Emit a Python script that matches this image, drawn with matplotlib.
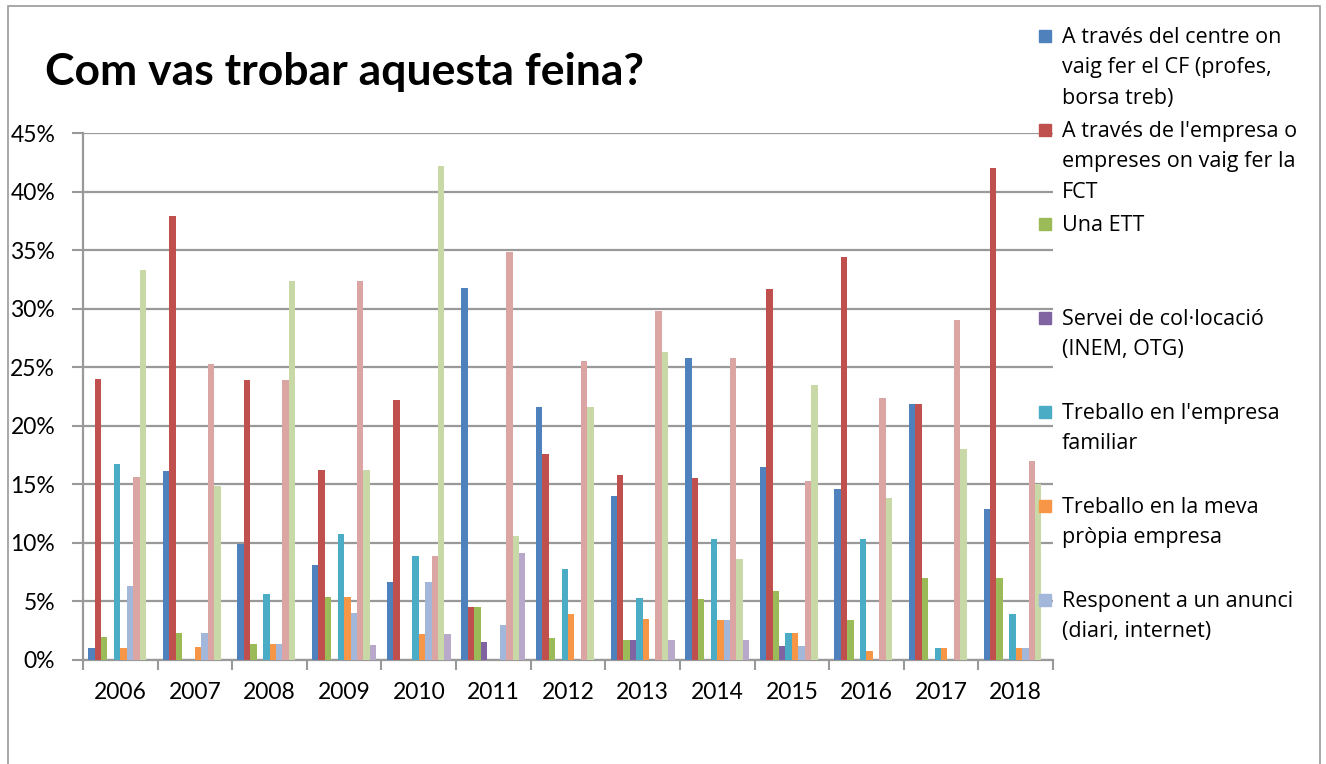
import matplotlib.pyplot as plt
import numpy as np
from matplotlib.patches import Rectangle

years = ['2006', '2007', '2008', '2009', '2010', '2011', '2012',
         '2013', '2014', '2015', '2016', '2017', '2018']

# percentatges per any (llegits del gràfic)
centre_cf = [1.0, 16.1, 9.9, 8.1, 6.7, 31.8, 21.6, 14.0, 25.8, 16.5, 14.6, 21.9, 12.9]
empresa_fct = [24.0, 37.9, 23.9, 16.2, 22.2, 4.5, 17.6, 15.8, 15.5, 31.7, 34.4, 21.9, 42.0]
ett = [2.0, 2.3, 1.4, 5.4, 0.0, 4.5, 1.9, 1.7, 5.2, 5.9, 3.4, 7.0, 7.0]
collocacio = [0.0, 0.0, 0.0, 0.0, 0.0, 1.5, 0.0, 1.7, 0.0, 1.2, 0.0, 0.0, 0.0]
empresa_familiar = [16.7, 0.0, 5.6, 10.8, 8.9, 0.0, 7.8, 5.3, 10.3, 2.3, 10.3, 1.0, 3.9]
propia_empresa = [1.0, 1.1, 1.4, 5.4, 2.2, 0.0, 3.9, 3.5, 3.4, 2.3, 0.8, 1.0, 1.0]
anunci = [6.3, 2.3, 1.4, 4.0, 6.7, 3.0, 0.0, 0.0, 3.4, 1.2, 0.0, 0.0, 1.0]
serie8 = [15.6, 25.3, 23.9, 32.4, 8.9, 34.8, 25.5, 29.8, 25.8, 15.3, 22.4, 29.0, 17.0]
serie9 = [33.3, 14.9, 32.4, 16.2, 42.2, 10.6, 21.6, 26.3, 8.6, 23.5, 13.8, 18.0, 15.0]
serie10 = [0.0, 0.0, 0.0, 1.3, 2.2, 9.1, 0.0, 1.7, 1.7, 0.0, 0.0, 0.0, 0.0]

series = [centre_cf, empresa_fct, ett, collocacio, empresa_familiar,
          propia_empresa, anunci, serie8, serie9, serie10]
colors = ['#4F81BD', '#C0504D', '#9BBB59', '#8064A2', '#4BACC6',
          '#F79646', '#A3B7DB', '#DBA5A3', '#C8D8A7', '#B8A9CB']
legend_labels = ["A través del centre on\nvaig fer el CF (profes,\nborsa treb)",
                 "A través de l'empresa o\nempreses on vaig fer la\nFCT",
                 "Una ETT",
                 "Servei de col·locació\n(INEM, OTG)",
                 "Treballo en l'empresa\nfamiliar",
                 "Treballo en la meva\npròpia empresa",
                 "Responent a un anunci\n(diari, internet)"]

W, H = 1326, 764
fig = plt.figure(figsize=(W / 100, H / 100), dpi=100)
ax = fig.add_axes([83 / W, 1 - 660 / H, 970 / W, 527 / H])

x = np.arange(len(years))
bw = 0.086
for i, (vals, c) in enumerate(zip(series, colors)):
    ax.bar(x - 0.43 + bw * (i + 0.5), vals, width=bw, color=c,
           linewidth=0, zorder=3)

ax.set_xlim(-0.5, len(years) - 0.5)
ax.set_ylim(0, 45)
ax.set_yticks(range(0, 50, 5))
ax.set_yticklabels([f'{v}%' for v in range(0, 50, 5)], fontsize=16.5, family='Lato')
ax.set_xticks(x)
ax.set_xticklabels(years, fontsize=16.5, family='Lato')
ax.set_xticks(np.arange(-0.5, len(years)), minor=True)
ax.tick_params(axis='x', which='major', length=0, pad=16)
ax.tick_params(axis='x', which='minor', length=7, width=1.5, color='#999999')
ax.tick_params(axis='y', length=8, width=1.5, color='#999999', pad=12)
ax.grid(axis='y', color='#999999', linewidth=1.6, zorder=0)
for s in ['top', 'right']:
    ax.spines[s].set_visible(False)
for s in ['left', 'bottom']:
    ax.spines[s].set_color('#999999')
    ax.spines[s].set_linewidth(1.6)

fig.text(45 / W, 1 - 72 / H, 'Com vas trobar aquesta feina?', fontsize=32,
         fontweight='bold', family='Lato', va='center', ha='left')

# llegenda (només es veuen les set primeres entrades)
for k, lab in enumerate(legend_labels):
    yc = 36 + 94 * k
    fig.patches.append(Rectangle((1039 / W, 1 - (yc + 6) / H), 12 / W, 12 / H,
                                 transform=fig.transFigure, color=colors[k]))
    fig.text(1062 / W, 1 - (yc - 9) / H, lab, fontsize=15.5, family='Open Sans',
             va='top', ha='left', linespacing=1.58)

fig.patches.append(Rectangle((8 / W, -0.01), 1312 / W, 1 - 6 / H + 0.01,
                             transform=fig.transFigure, fill=False,
                             edgecolor='#999999', linewidth=1.2))

fig.savefig('out.png', dpi=100)
